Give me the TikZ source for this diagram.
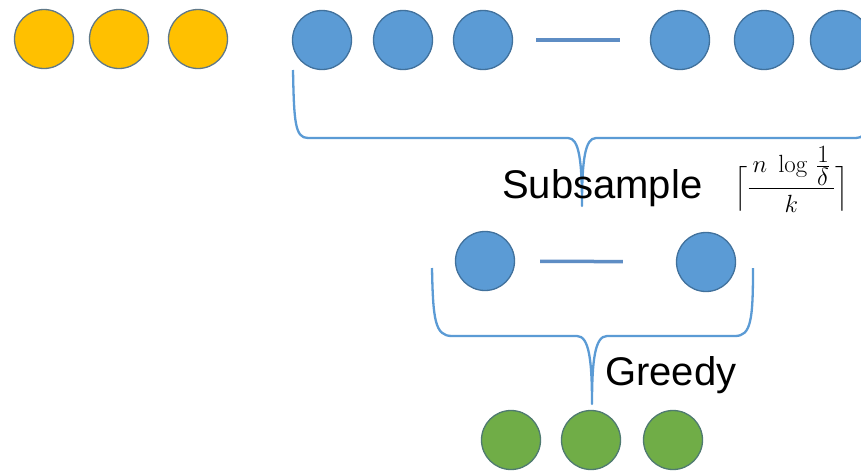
\documentclass[tikz,border=0pt]{standalone}
\usepackage{amsmath}
\usepackage[no-math]{fontspec}
\setmainfont{Liberation Sans}
\definecolor{orfill}{HTML}{FFC000}
\definecolor{blfill}{HTML}{5B9BD5}
\definecolor{grfill}{HTML}{70AD47}
\definecolor{edgec}{HTML}{41719C}
\definecolor{oedge}{HTML}{5F7888}
\definecolor{gedge}{HTML}{4F7A70}
\definecolor{sepc}{HTML}{5E8DC4}
\definecolor{bracec}{HTML}{5B9BD5}
\begin{document}
\begin{tikzpicture}[x=1pt,y=-1pt,
  dot/.style={circle, minimum size=59pt, inner sep=0pt, line width=1.3pt, draw=edgec},
  odot/.style={dot, fill=orfill, draw=oedge},
  bdot/.style={dot, fill=blfill},
  gdot/.style={dot, fill=grfill, draw=gedge},
  sepline/.style={draw=sepc, line width=3.5pt},
  bracepath/.style={draw=bracec, line width=2.3pt, line join=round},
  lbl/.style={font=\fontsize{40}{48}\selectfont, inner sep=0pt, anchor=base west}]
\useasboundingbox (0,0) rectangle (861,472);
\clip (0,0) rectangle (861,472);
\fill[white] (0,0) rectangle (861,472);

% orange
\node[odot] (o1) at (44,39) {};
\node[odot] (o2) at (119,39) {};
\node[odot] (o3) at (198,39) {};

% top blue row
\node[bdot] (b1) at (322,40) {};
\node[bdot] (b2) at (403,40) {};
\node[bdot] (b3) at (483,40) {};
\node[bdot] (b4) at (680,40) {};
\node[bdot] (b5) at (764,40) {};
\node[bdot] (b6) at (840,40) {};
\draw[sepline, shorten <=23pt, shorten >=30pt] (b3) -- (b4);

% first brace
\coordinate (s1) at (582,206);
\draw[bracepath] (293,70) .. controls (294,122) and (295,138) .. (308,138)
  -- (568,138) .. controls (579,138) and (582,160) .. (s1)
  .. controls (582,160) and (585,138) .. (596,138)
  -- (856,138) .. controls (869,138) and (870,122) .. (871,70);

% middle blue
\node[bdot] (m1) at (485,261) {};
\node[bdot] (m2) at (706,262) {};
\draw[sepline, shorten <=25pt, shorten >=53pt] (m1) -- (m2);

% second brace
\coordinate (s2) at (592,404);
\draw[bracepath] (432,268) .. controls (433,320) and (435,336) .. (452,336)
  -- (577,336) .. controls (589,336) and (592,360) .. (s2)
  .. controls (592,360) and (595,336) .. (607,336)
  -- (735,336) .. controls (751,336) and (753,320) .. (753,268);

% green
\node[gdot] (g1) at (511,440) {};
\node[gdot] (g2) at (591,440) {};
\node[gdot] (g3) at (673,440) {};

% labels
\node[lbl] (sub) at (502,198) {Subsample};
\node[font=\fontsize{33}{40}\selectfont, inner sep=0pt, anchor=base west] (frm) at (734,195)
  {$\Big\lceil\dfrac{\,n\;\log\,\frac{1}{\delta}\,}{k}\Big\rceil$};
\node[lbl] (gr) at (605,385) {Greedy};
\end{tikzpicture}
\end{document}
